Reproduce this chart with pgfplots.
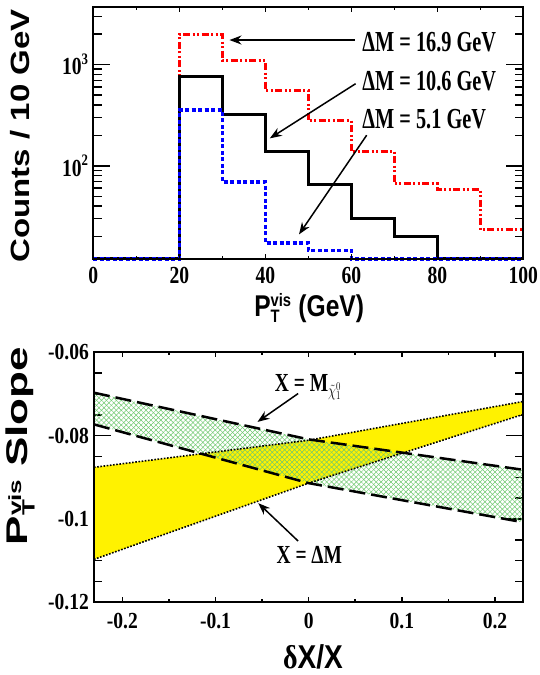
\documentclass[border=0pt]{standalone}
\usepackage{fontspec}
\setmainfont{Liberation Serif}
\setsansfont{Liberation Sans}
\usepackage{pgfplots}
\pgfplotsset{compat=1.18}
\usetikzlibrary{arrows.meta,patterns.meta}
\definecolor{hatchgreen}{RGB}{110,200,110}
\newcommand\sups[1]{\raisebox{0.42em}{\fontsize{16}{16}\selectfont #1}}
\newcommand\smallsf[1]{\mbox{\fontsize{18}{18}\selectfont #1}}
\newcommand\midsf[1]{\mbox{\fontsize{26}{26}\selectfont #1}}
\pgfplotsset{
  panel/.style={scale only axis, anchor=south west,
    axis line style={line width=2pt}, tick style={line width=1.5pt,black}},
  topticks/.style={xticklabel style={font=\fontsize{24.5}{24.5}\selectfont\bfseries, inner sep=0pt, yshift=-7.7pt, xscale=0.8}},
}
\begin{document}
\begin{tikzpicture}
\path[use as bounding box] (0pt,0pt) rectangle (539pt,675pt);
%================ TOP PANEL =================
\begin{axis}[panel, at={(93.3pt,416pt)}, width=430pt, height=251.7pt,
  xmin=0, xmax=100, ymode=log, ymin=12, ymax=3680, clip=false,
  xtick=\empty, ytick={100,1000}, yticklabels={10\sups{2},10\sups{3}},
  minor ytick={20,30,40,50,60,70,80,90,200,300,400,500,600,700,800,900,2000,3000},
  major tick length=17pt, minor tick length=8.5pt,
  yticklabel style={font=\fontsize{24.5}{24.5}\selectfont\bfseries, inner sep=0pt, xshift=-5pt, xscale=0.8},
  ylabel={Counts / 10 GeV},
  ylabel style={font=\sffamily\bfseries\fontsize{33}{33}\selectfont, at={(axis description cs:-0.171,0.489)}, anchor=center, yscale=0.8},
  xlabel={P$^{\smallsf{vis}}_{\smallsf{T}}$ (GeV)},
  xlabel style={font=\sffamily\bfseries\fontsize{30}{30}\selectfont, at={(axis description cs:0.502,-0.2265)}, anchor=base, xscale=0.82},
]
\addplot[const plot, red, line width=3pt, dash pattern=on 7pt off 2.5pt on 2pt off 2.5pt on 2pt off 2.5pt]
  coordinates {(0,12) (20,1992) (30,1090) (40,560) (50,280) (60,139) (70,66.6) (80,58) (90,23.3) (100,23.3)};
\addplot[const plot, black, line width=3pt]
  coordinates {(0,12) (20,757) (30,321) (40,139) (50,65) (60,30) (70,20.2) (80,12) (100,12)};
\addplot[const plot, blue, line width=3.5pt, dash pattern=on 4pt off 2.5pt]
  coordinates {(0,12) (20,354) (30,69) (40,17.2) (50,14.6) (60,12) (100,12)};
\node[anchor=base west, font=\fontsize{29}{29}\selectfont\bfseries, xscale=0.7, inner sep=0pt] at (axis cs:62.56,1339) {ΔM = 16.9 GeV};
\node[anchor=base west, font=\fontsize{29}{29}\selectfont\bfseries, xscale=0.7, inner sep=0pt] at (axis cs:62.56,560) {ΔM = 10.6 GeV};
\node[anchor=base west, font=\fontsize{29}{29}\selectfont\bfseries, xscale=0.7, inner sep=0pt] at (axis cs:62.56,233) {ΔM = 5.1 GeV};
\draw[-{Stealth[length=12pt,width=9pt]}, line width=1.5pt] (axis cs:60.86,1748) -- (axis cs:31.67,1748);
\draw[-{Stealth[length=12pt,width=9pt]}, line width=1.5pt] (axis cs:61.0,647) -- (axis cs:41.05,186.7);
\draw[-{Stealth[length=12pt,width=9pt]}, line width=1.5pt] (axis cs:63.58,200.6) -- (axis cs:47.84,21.0);
\end{axis}
\begin{axis}[panel, topticks, at={(93.3pt,416pt)}, width=430pt, height=251.7pt,
  xmin=0, xmax=100, ymode=log, ymin=12, ymax=3680,
  ytick=\empty, xtick={0,20,40,60,80,100}, xticklabels={0,20,40,60,80,100},
  minor xtick={10,30,50,70,90}, major tick length=5pt, minor tick length=3pt]
\end{axis}
%================ BOTTOM PANEL =================
\begin{axis}[panel, at={(94pt,72.7pt)}, width=429.3pt, height=250pt,
  xmin=-0.2304, xmax=0.2304, ymin=-0.12, ymax=-0.06,
  xtick=\empty, ytick={-0.12,-0.1,-0.08,-0.06}, yticklabels={-0.12,-0.1,-0.08,-0.06},
  minor y tick num=3, major tick length=17pt, minor tick length=8.5pt,
  yticklabel style={font=\fontsize{23}{23}\selectfont\bfseries, inner sep=0pt, xshift=-5pt, xscale=0.85},
  ylabel={P$^{\midsf{vis}}_{\midsf{T}}$ Slope},
  ylabel style={font=\sffamily\bfseries\fontsize{44}{44}\selectfont, at={(axis description cs:-0.172,0.625)}, anchor=center, yscale=0.68},
  xlabel={{\rmfamily δ}X/X},
  xlabel style={font=\sffamily\bfseries\fontsize{33}{33}\selectfont, at={(axis description cs:0.51,-0.263)}, anchor=base, xscale=0.85},
]
\addplot[fill=yellow, draw=none]
  coordinates {(-0.2304,-0.0876) (0,-0.0811) (0.2304,-0.0718) (0.2304,-0.0749) (0,-0.0914) (-0.2304,-0.1097)} -- cycle;
\addplot[pattern={Lines[angle=45,distance=3.5pt,line width=0.5pt]}, pattern color=hatchgreen, draw=none]
  coordinates {(-0.2304,-0.0697) (0,-0.0809) (0.2304,-0.0882) (0.2304,-0.1008) (0,-0.0914) (-0.2304,-0.0773)} -- cycle;
\addplot[pattern={Lines[angle=-45,distance=3.5pt,line width=0.5pt]}, pattern color=hatchgreen, draw=none]
  coordinates {(-0.2304,-0.0697) (0,-0.0809) (0.2304,-0.0882) (0.2304,-0.1008) (0,-0.0914) (-0.2304,-0.0773)} -- cycle;
\addplot[black, line width=1.6pt, dash pattern=on 1.6pt off 1.6pt]
  coordinates {(-0.2304,-0.0876) (0,-0.0811) (0.2304,-0.0718)};
\addplot[black, line width=1.6pt, dash pattern=on 1.6pt off 1.6pt]
  coordinates {(-0.2304,-0.1097) (0,-0.0914) (0.2304,-0.0749)};
\addplot[black, line width=2.5pt, dash pattern=on 16pt off 6pt]
  coordinates {(-0.2304,-0.0697) (0,-0.0809) (0.2304,-0.0882)};
\addplot[black, line width=2.5pt, dash pattern=on 16pt off 6pt]
  coordinates {(-0.2304,-0.0773) (0,-0.0914) (0.2304,-0.1008)};
\node[anchor=base west, font=\fontsize{26}{26}\selectfont\bfseries, xscale=0.75, inner sep=0pt] at (axis cs:-0.0364,-0.0694) {X = M$_{\tilde{\chi}^0_1}$};
\node[anchor=base west, font=\fontsize{26}{26}\selectfont\bfseries, xscale=0.75, inner sep=0pt] at (axis cs:-0.0346,-0.1107) {X = ΔM};
\draw[-{Stealth[length=12pt,width=9pt]}, line width=1.5pt] (axis cs:-0.0113,-0.0699) -- (axis cs:-0.0549,-0.0767);
\draw[-{Stealth[length=12pt,width=9pt]}, line width=1.5pt] (axis cs:-0.0113,-0.1053) -- (axis cs:-0.0541,-0.0962);
\end{axis}
\begin{axis}[panel, at={(94pt,72.7pt)}, width=429.3pt, height=250pt,
  xmin=-0.2304, xmax=0.2304, ymin=-0.12, ymax=-0.06,
  ytick=\empty, xtick={-0.2,-0.1,0,0.1,0.2}, xticklabels={-0.2,-0.1,0,0.1,0.2},
  minor xtick={-0.15,-0.05,0.05,0.15}, major tick length=5pt, minor tick length=3pt,
  xticklabel style={font=\fontsize{23}{23}\selectfont\bfseries, inner sep=0pt, yshift=-10.4pt, xscale=0.85}]
\end{axis}
\end{tikzpicture}
\end{document}
